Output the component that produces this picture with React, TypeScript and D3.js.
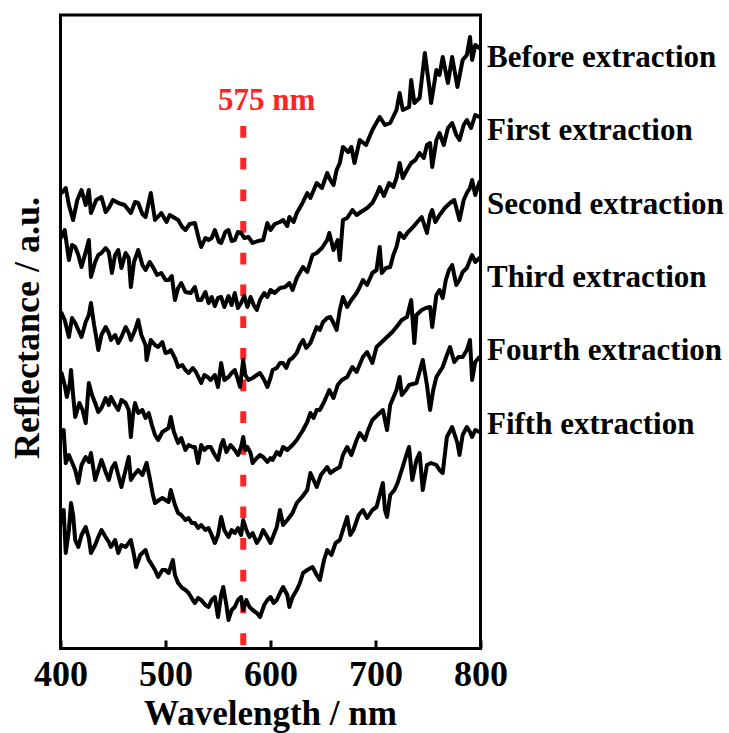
import React, { useRef, useEffect } from "react";
import * as d3 from "d3";

// [wavelength (nm), reflectance (a.u., offset for stacking)]
const beforeExtraction: [number, number][] = [
  [401, 45.7], [405, 46.2], [408, 44.5], [412, 43.0], [416, 45.0], [420, 46.0], [424, 44.5], [427, 46.0],
  [429, 43.7], [434, 45.0], [439, 45.3], [443, 43.8], [446, 44.2], [450, 45.0], [455, 44.7], [461, 44.5],
  [467, 43.7], [471, 44.8], [474, 44.7], [478, 43.6], [481, 43.3], [486, 45.7], [490, 43.0], [496, 43.7],
  [501, 42.8], [504, 43.5], [512, 43.0], [516, 42.3], [519, 42.0], [523, 42.6], [528, 42.7], [532, 41.0],
  [534, 40.3], [538, 41.2], [541, 41.0], [544, 41.2], [547, 42.0], [551, 40.8], [553, 40.7], [557, 41.8],
  [560, 42.0], [563, 40.9], [566, 41.0], [569, 41.8], [572, 41.7], [575, 41.2], [579, 41.3], [583, 40.7],
  [588, 40.9], [593, 41.0], [597, 42.7], [600, 42.0], [604, 42.6], [609, 42.8], [612, 43.0], [616, 42.4],
  [618, 43.3], [622, 42.8], [625, 43.7], [630, 44.6], [635, 45.7], [638, 45.2], [644, 46.7], [649, 46.2],
  [654, 47.7], [657, 47.0], [660, 46.5], [663, 48.0], [666, 48.7], [669, 50.3], [674, 49.8], [677, 50.3],
  [680, 48.7], [685, 51.0], [691, 50.5], [697, 52.0], [704, 53.3], [709, 52.5], [714, 52.7], [720, 54.0],
  [723, 55.7], [726, 54.0], [732, 54.3], [734, 57.0], [737, 54.7], [742, 55.2], [747, 59.7], [751, 56.5],
  [753, 54.7], [758, 58.0], [761, 57.5], [764, 59.3], [769, 56.7], [773, 59.3], [778, 56.3], [783, 59.0],
  [787, 59.5], [790, 61.3], [792, 59.0], [795, 60.5], [799, 60.2],
];

const firstExtraction: [number, number][] = [
  [401, 41.3], [404, 42.0], [408, 39.0], [411, 40.5], [414, 40.3], [417, 39.5], [420, 38.3], [424, 39.8],
  [427, 41.0], [429, 37.3], [433, 38.8], [436, 39.5], [439, 39.7], [443, 40.2], [446, 39.8], [449, 37.7],
  [452, 39.5], [455, 40.0], [458, 38.2], [462, 39.7], [465, 39.2], [467, 36.3], [470, 38.8], [474, 40.0],
  [478, 38.5], [481, 38.0], [485, 38.8], [488, 38.3], [492, 37.5], [496, 37.7], [500, 37.0], [503, 37.0],
  [506, 37.4], [509, 35.0], [512, 36.2], [515, 36.7], [519, 35.8], [524, 35.7], [528, 36.3], [531, 35.0],
  [534, 35.0], [538, 35.8], [541, 34.7], [544, 35.3], [547, 34.4], [550, 35.2], [553, 35.3], [556, 34.3],
  [560, 35.4], [563, 34.5], [566, 35.7], [569, 34.2], [572, 34.7], [575, 35.4], [578, 34.3], [581, 35.3],
  [584, 34.5], [587, 34.0], [590, 35.0], [594, 35.7], [597, 35.3], [600, 36.0], [604, 35.7], [609, 36.2],
  [614, 36.3], [618, 36.7], [621, 36.0], [625, 37.2], [631, 38.3], [635, 37.8], [640, 39.5], [644, 39.7],
  [649, 40.2], [654, 41.0], [656, 41.7], [660, 40.0], [664, 41.0], [666, 39.0], [669, 43.0], [673, 43.2],
  [678, 44.0], [682, 43.5], [686, 43.8], [692, 44.2], [697, 44.7], [701, 45.5], [704, 46.3], [708, 45.4],
  [713, 46.7], [717, 46.3], [720, 47.2], [723, 48.7], [726, 47.2], [730, 48.0], [734, 48.7], [738, 49.0],
  [742, 49.7], [746, 49.2], [749, 50.5], [752, 50.7], [754, 48.3], [758, 51.0], [761, 51.7], [765, 50.5],
  [769, 52.2], [773, 52.7], [777, 51.5], [780, 51.0], [784, 52.5], [787, 53.0], [791, 52.2], [795, 53.5],
  [799, 53.3],
];

const secondExtraction: [number, number][] = [
  [401, 33.7], [404, 33.0], [408, 31.3], [411, 33.2], [414, 32.7], [417, 32.0], [420, 31.3], [424, 32.8],
  [427, 33.5], [429, 34.7], [432, 32.5], [434, 31.3], [436, 30.0], [439, 31.5], [443, 32.3], [446, 31.7],
  [448, 31.0], [452, 31.5], [455, 30.7], [458, 31.3], [462, 32.3], [465, 31.7], [467, 31.0], [471, 32.0],
  [474, 33.0], [477, 31.5], [481, 30.5], [482, 29.0], [484, 30.0], [486, 31.0], [490, 30.5], [493, 30.3],
  [497, 30.8], [500, 29.7], [503, 29.8], [505, 30.0], [509, 29.2], [512, 28.3], [516, 28.5], [519, 28.0],
  [522, 27.7], [526, 28.2], [529, 27.8], [534, 26.7], [537, 27.5], [540, 27.3], [543, 27.0], [547, 27.5],
  [550, 26.3], [553, 28.7], [556, 27.0], [560, 27.3], [563, 27.7], [566, 28.0], [569, 27.0], [571, 26.3],
  [574, 29.0], [576, 27.5], [579, 27.0], [583, 27.2], [587, 27.5], [590, 27.7], [594, 27.0], [597, 26.3],
  [600, 27.2], [602, 28.0], [606, 28.2], [609, 28.7], [612, 28.7], [615, 28.2], [618, 29.0], [621, 29.2],
  [625, 29.7], [628, 30.5], [631, 31.0], [634, 30.2], [638, 30.7], [641, 31.5], [644, 32.3], [647, 32.0],
  [650, 32.8], [654, 33.2], [657, 33.3], [660, 32.7], [663, 32.0], [666, 34.0], [669, 35.3], [673, 34.3],
  [677, 35.0], [682, 35.7], [685, 36.3], [688, 37.0], [692, 36.5], [697, 37.7], [701, 38.0], [704, 40.3],
  [706, 37.7], [710, 38.2], [714, 38.3], [717, 39.5], [720, 40.3], [723, 41.7], [727, 41.2], [731, 41.8],
  [735, 42.2], [739, 42.7], [744, 43.3], [749, 41.7], [752, 43.5], [754, 44.0], [757, 42.8], [761, 43.5],
  [766, 44.2], [771, 44.7], [775, 45.0], [780, 43.0], [784, 45.0], [787, 45.7], [790, 46.2], [792, 47.0],
  [795, 45.5], [799, 46.8],
];

const thirdExtraction: [number, number][] = [
  [401, 27.7], [404, 26.5], [406, 25.3], [409, 26.7], [410, 28.0], [412, 25.5], [414, 23.3], [418, 24.7],
  [421, 24.0], [424, 22.7], [427, 26.7], [430, 25.5], [433, 24.7], [436, 23.8], [439, 24.2], [443, 25.2],
  [446, 24.5], [448, 25.3], [452, 24.5], [455, 24.0], [458, 25.0], [462, 24.7], [465, 24.0], [467, 21.3],
  [469, 23.5], [471, 24.7], [474, 23.7], [478, 24.0], [481, 23.2], [484, 23.7], [487, 22.5], [490, 21.5],
  [493, 21.0], [497, 21.8], [500, 22.0], [503, 22.2], [505, 23.3], [508, 21.8], [512, 20.7], [515, 21.2],
  [519, 20.0], [522, 20.5], [526, 20.3], [528, 20.3], [531, 18.7], [534, 20.5], [537, 20.0], [540, 20.3],
  [543, 20.3], [547, 19.5], [550, 19.0], [553, 20.5], [555, 21.0], [558, 19.8], [562, 20.5], [566, 20.0],
  [569, 19.5], [572, 20.3], [574, 21.3], [576, 20.0], [578, 20.3], [581, 19.7], [583, 18.7], [587, 19.2],
  [590, 19.5], [593, 19.3], [597, 18.8], [600, 19.2], [602, 19.0], [606, 19.8], [609, 19.5], [612, 20.3],
  [616, 20.0], [618, 20.2], [621, 20.5], [625, 21.0], [628, 21.5], [631, 22.0], [635, 22.8], [638, 23.7],
  [641, 23.2], [644, 24.0], [647, 24.0], [651, 24.8], [656, 26.0], [660, 25.2], [664, 26.5], [668, 27.0],
  [673, 27.3], [678, 28.3], [682, 27.8], [688, 29.3], [692, 29.8], [697, 28.7], [701, 30.3], [706, 30.8],
  [711, 31.3], [716, 31.8], [720, 32.3], [725, 33.0], [730, 33.3], [734, 35.0], [737, 30.7], [739, 33.5],
  [744, 34.0], [748, 34.2], [752, 34.3], [754, 32.3], [758, 35.5], [761, 36.0], [764, 35.2], [767, 37.0],
  [770, 38.0], [773, 38.5], [777, 36.5], [780, 37.0], [783, 37.8], [787, 38.2], [790, 39.0], [792, 39.5],
  [795, 38.8], [799, 39.2],
];

const fourthExtraction: [number, number][] = [
  [401, 21.3], [403, 22.0], [405, 18.7], [408, 19.5], [410, 19.0], [414, 18.0], [417, 16.7], [420, 18.5],
  [424, 19.3], [427, 18.8], [429, 19.7], [433, 17.0], [436, 18.0], [439, 19.0], [443, 17.8], [446, 17.0],
  [449, 18.2], [452, 18.7], [455, 17.5], [458, 16.3], [462, 18.0], [465, 19.3], [467, 17.0], [470, 17.5],
  [474, 18.0], [478, 17.5], [482, 18.7], [485, 17.2], [488, 15.5], [490, 14.7], [494, 15.0], [497, 15.2],
  [500, 15.0], [503, 14.8], [505, 16.0], [509, 14.5], [512, 13.7], [515, 13.5], [519, 13.0], [522, 13.2],
  [525, 12.7], [528, 12.7], [531, 12.2], [534, 12.5], [538, 12.0], [541, 12.2], [544, 11.5], [547, 10.7],
  [550, 11.5], [553, 13.3], [556, 12.0], [560, 11.3], [563, 12.0], [566, 11.7], [569, 12.2], [572, 11.5],
  [574, 13.0], [577, 12.0], [580, 11.3], [583, 11.7], [587, 10.7], [590, 11.2], [593, 12.0], [597, 11.3],
  [600, 10.7], [603, 11.5], [606, 12.3], [609, 14.0], [612, 12.5], [616, 13.0], [621, 13.7], [625, 14.7],
  [630, 15.3], [635, 16.0], [638, 17.7], [641, 17.0], [644, 16.3], [648, 17.5], [654, 18.3], [657, 17.7],
  [661, 18.0], [666, 18.3], [669, 19.5], [673, 20.3], [677, 19.5], [682, 21.0], [685, 21.7], [690, 21.0],
  [693, 22.0], [697, 23.0], [702, 23.5], [707, 24.0], [711, 22.0], [714, 24.5], [716, 25.0], [720, 26.0],
  [723, 27.3], [725, 25.5], [729, 26.0], [732, 26.5], [739, 26.7], [745, 29.0], [749, 26.5], [752, 24.0],
  [755, 26.0], [758, 27.3], [764, 28.3], [768, 29.5], [771, 30.3], [775, 28.8], [779, 29.3], [783, 29.3],
  [787, 30.0], [790, 31.0], [792, 27.0], [795, 28.8], [799, 29.3],
];

const fifthExtraction: [number, number][] = [
  [401, 12.7], [403, 14.0], [405, 9.7], [408, 12.0], [410, 14.7], [412, 13.5], [414, 11.0], [417, 10.3],
  [420, 11.5], [424, 12.3], [427, 11.2], [429, 9.7], [433, 10.5], [436, 11.3], [439, 12.0], [443, 11.3],
  [446, 10.8], [448, 10.3], [452, 11.0], [455, 9.7], [458, 10.5], [462, 10.3], [465, 10.7], [467, 11.0],
  [470, 9.5], [472, 8.3], [476, 9.5], [481, 10.0], [484, 9.0], [486, 8.7], [490, 8.0], [493, 7.3],
  [497, 8.0], [500, 8.0], [503, 7.7], [507, 9.0], [509, 7.5], [512, 6.7], [516, 6.2], [519, 6.0],
  [522, 5.7], [526, 5.0], [528, 4.7], [531, 5.2], [534, 5.0], [538, 4.5], [541, 4.3], [544, 5.0],
  [547, 5.3], [550, 3.3], [553, 5.5], [555, 6.3], [558, 4.5], [560, 3.0], [563, 4.0], [566, 4.3],
  [569, 5.0], [572, 5.3], [574, 4.0], [577, 5.0], [580, 4.3], [583, 4.0], [587, 3.7], [590, 3.3],
  [594, 4.5], [597, 5.0], [600, 5.3], [603, 4.7], [606, 5.0], [609, 5.7], [612, 6.3], [616, 5.5],
  [618, 4.3], [621, 5.3], [625, 6.0], [628, 6.7], [631, 7.7], [635, 8.0], [640, 8.3], [644, 7.5],
  [647, 7.0], [651, 9.0], [654, 10.0], [658, 9.5], [662, 10.7], [666, 11.0], [669, 12.0], [673, 13.3],
  [676, 11.5], [679, 12.0], [684, 13.5], [688, 14.0], [692, 13.2], [697, 14.0], [701, 14.3], [704, 15.5],
  [707, 16.7], [709, 14.0], [711, 13.3], [714, 15.5], [718, 16.0], [721, 16.7], [725, 18.0], [730, 19.7],
  [732, 20.3], [735, 17.0], [739, 19.0], [742, 19.7], [745, 16.0], [749, 18.5], [753, 18.7], [758, 18.5],
  [761, 18.0], [764, 17.7], [768, 21.3], [773, 22.3], [778, 20.7], [780, 19.5], [783, 21.5], [787, 22.3],
  [790, 21.8], [792, 21.3], [795, 22.0], [799, 21.8],
];

const seriesLabels = [
  "Before extraction",
  "First extraction",
  "Second extraction",
  "Third extraction",
  "Fourth extraction",
  "Fifth extraction",
];
const wavelengthTicks = [400, 500, 600, 700, 800];
const markerWavelength = 575;

const App = () => {
  const svgRef = useRef<SVGSVGElement>(null);

  useEffect(() => {
    const width = 729;
    const height = 733;
    const left = 60.5, right = 480.5, top = 15, bottom = 648.5;
    const font = "'Liberation Serif', 'Times New Roman', Times, serif";
    const red = "#ff2424";

    const svg = d3.select(svgRef.current);
    svg.selectAll("*").remove();
    svg.attr("width", width).attr("height", height)
      .style("font-family", font)
      .style("font-weight", "bold");

    const x = d3.scaleLinear().domain([400, 800]).range([left, right]);
    const y = d3.scaleLinear().domain([0, 63.5]).range([650, 15]);

    const allSeries = [beforeExtraction, firstExtraction, secondExtraction,
      thirdExtraction, fourthExtraction, fifthExtraction];

    // marker line at 575 nm
    svg.append("line")
      .attr("x1", x(markerWavelength) - 1)
      .attr("x2", x(markerWavelength) - 1)
      .attr("y1", 126)
      .attr("y2", bottom)
      .attr("stroke", red)
      .attr("stroke-width", 6)
      .attr("stroke-dasharray", "11.7 20");

    svg.append("text")
      .attr("x", 218)
      .attr("y", 110)
      .attr("fill", red)
      .style("font-size", "31px")
      .text(`${markerWavelength} nm`);

    const line = d3.line<[number, number]>()
      .x(d => x(d[0]))
      .y(d => y(d[1]));

    svg.append("g")
      .selectAll("path")
      .data(allSeries)
      .join("path")
      .attr("d", d => line(d))
      .attr("fill", "none")
      .attr("stroke", "#000")
      .attr("stroke-width", 4)
      .attr("stroke-linejoin", "round")
      .attr("stroke-linecap", "round");

    // frame
    svg.append("rect")
      .attr("x", left).attr("y", top)
      .attr("width", right - left).attr("height", bottom - top)
      .attr("fill", "none")
      .attr("stroke", "#000")
      .attr("stroke-width", 3);

    // bottom axis, ticks pointing inward
    const axis = svg.append("g")
      .attr("transform", `translate(0,${bottom})`)
      .call(d3.axisBottom(x).tickValues(wavelengthTicks).tickSizeInner(-8).tickSizeOuter(0).tickPadding(12));
    axis.select(".domain").remove();
    axis.selectAll(".tick line").attr("stroke", "#000").attr("stroke-width", 3);
    axis.selectAll(".tick text")
      .attr("fill", "#000")
      .style("font-family", font)
      .style("font-weight", "bold")
      .style("font-size", "36px");

    svg.append("text")
      .attr("x", (left + right) / 2)
      .attr("y", 725)
      .attr("text-anchor", "middle")
      .style("font-size", "35px")
      .text("Wavelength / nm");

    svg.append("text")
      .attr("transform", "translate(39,328) rotate(-90)")
      .attr("text-anchor", "middle")
      .style("font-size", "36px")
      .text("Reflectance / a.u.");

    // series labels at the right edge
    svg.append("g")
      .selectAll("text")
      .data(seriesLabels)
      .join("text")
      .attr("x", 487)
      .attr("y", (d, i) => 67 + i * 73.3)
      .style("font-size", "31px")
      .text(d => d);
  }, []);

  return (
    <svg ref={svgRef} style={{ position: "absolute", left: 0, top: 0, background: "#fff" }} />
  );
};

export default App;
